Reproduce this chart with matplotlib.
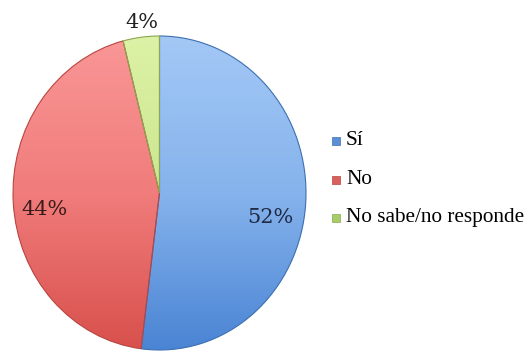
import numpy as np
import matplotlib.pyplot as plt
from matplotlib.colors import LinearSegmentedColormap
from matplotlib.patches import Rectangle

plt.rcParams["font.serif"] = ["Liberation Serif", "Times New Roman", "DejaVu Serif"]

labels = ["Sí", "No", "No sabe/no responde"]
values = [52, 44, 4]
top_colors = ["#a3c8f6", "#fa9797", "#dcf2a6"]
mid_colors = ["#86b3ec", "#f07c7b", "#cbe690"]
bottom_colors = ["#4a84d4", "#d8504c", "#a6c862"]
edge_colors = ["#3d6fb0", "#b84542", "#8aa84e"]
legend_colors = ["#5b8fd6", "#d9605c", "#a9cc6a"]
text_colors = ["#1f2a45", "#3a1a1a", "#222222"]

W, H = 531, 354
fig = plt.figure(figsize=(W / 100, H / 100), dpi=100)
fig.patch.set_facecolor("white")

# pie box in pixels: left, bottom, width, height (slightly stretched vertically)
ax = fig.add_axes([13 / W, 4 / H, 293 / W, 314 / H])
wedges, _ = ax.pie(values, startangle=90, counterclock=False, radius=1,
                   wedgeprops=dict(linewidth=0.8))

# vertical gradient fill for each slice, clipped to the wedge
grad = np.linspace(0, 1, 256).reshape(-1, 1)
for w, c0, cm, c1, ec in zip(wedges, top_colors, mid_colors, bottom_colors, edge_colors):
    cmap = LinearSegmentedColormap.from_list("g", [c0, cm, c1])
    w.set_facecolor("none")
    w.set_edgecolor(ec)
    im = ax.imshow(grad, cmap=cmap, extent=(-1, 1, -1, 1), origin="upper",
                   aspect="auto", zorder=0)
    im.set_clip_path(w)

ax.set_aspect("auto")
ax.set_xlim(-1, 1)
ax.set_ylim(-1, 1)
ax.axis("off")

# percentage labels (best-fit positions)
label_pos = [(0.754, -0.153), (-0.788, -0.102), (-0.119, 1.085)]
for v, (x, y), tc in zip(values, label_pos, text_colors):
    ax.text(x, y, f"{v}%", ha="center", va="center", fontsize=15,
            family="DejaVu Serif", color=tc, clip_on=False)

# legend on the right
baselines = [145, 184, 222]
for lab, col, ec, yb in zip(labels, legend_colors, edge_colors, baselines):
    fig.patches.append(Rectangle((332 / W, 1 - yb / H), 8 / W, 8 / H,
                                 transform=fig.transFigure, facecolor=col,
                                 edgecolor=ec, linewidth=0.5))
    fig.text(346 / W, 1 - yb / H, lab, ha="left", va="baseline",
             fontsize=15.3, family="serif", color="black")

fig.savefig("out.png", dpi=100)
